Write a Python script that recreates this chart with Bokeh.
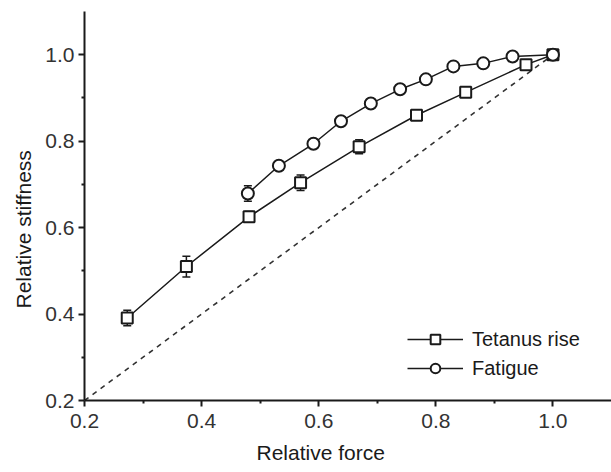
from bokeh.plotting import figure
from bokeh.models import (Range1d, FixedTicker, PrintfTickFormatter, Whisker, TeeHead,
                          ColumnDataSource, Legend, LegendItem, Title)
from bokeh.embed import file_html
from bokeh.resources import INLINE

# ---- data ----
tetanus_force = [0.273, 0.374, 0.481, 0.569, 0.669, 0.767, 0.851, 0.954, 1.0]
tetanus_stiff = [0.391, 0.510, 0.625, 0.704, 0.787, 0.860, 0.913, 0.977, 1.0]
tetanus_err = [0.018, 0.024, 0.012, 0.018, 0.016, 0.0, 0.0, 0.0, 0.0]

fatigue_force = [0.479, 0.532, 0.591, 0.638, 0.689, 0.739, 0.783, 0.830, 0.881, 0.931, 1.0]
fatigue_stiff = [0.679, 0.743, 0.794, 0.846, 0.887, 0.920, 0.943, 0.973, 0.980, 0.996, 1.0]
fatigue_err = [0.018, 0.0, 0.0, 0.0, 0.0, 0.0, 0.0, 0.0, 0.0, 0.0, 0.0]

identity_x = [0.2, 1.0]
identity_y = [0.2, 1.0]

tick_values = [0.2, 0.4, 0.6, 0.8, 1.0]
minor_values = [0.3, 0.5, 0.7, 0.9]

x_title = "Relative force"
y_title = "Relative stiffness"
series_names = ["Tetanus rise", "Fatigue"]

FONT = "Liberation Sans"
INK = "#1a1a1a"

p = figure(width=611, height=472, output_backend="svg", toolbar_location=None,
           x_range=Range1d(0.2, 1.1), y_range=Range1d(0.2, 1.1),
           min_border_left=84, min_border_right=0, min_border_top=11, min_border_bottom=72)
p.outline_line_color = None
p.grid.visible = False
p.background_fill_color = "white"

for ax in (p.xaxis[0], p.yaxis[0]):
    ax.ticker = FixedTicker(ticks=tick_values, minor_ticks=minor_values)
    ax.formatter = PrintfTickFormatter(format="%.1f")
    ax.axis_line_width = 2
    ax.axis_line_color = INK
    ax.major_tick_line_color = INK
    ax.major_tick_line_width = 2
    ax.minor_tick_line_color = INK
    ax.minor_tick_line_width = 2
    ax.major_tick_out = 6
    ax.major_tick_in = 0
    ax.minor_tick_out = 3
    ax.minor_tick_in = 0
    ax.major_label_text_font = FONT
    ax.major_label_text_font_size = "21px"
    ax.major_label_text_color = "#333333"
p.xaxis[0].major_label_standoff = 7
p.yaxis[0].major_label_standoff = 4

# identity dashed line
p.line(identity_x, identity_y, line_color="#333333", line_width=1.6, line_dash="5 5")

# error bars
def err_source(xs, ys, es):
    xx, lo, hi = [], [], []
    for x, y, e in zip(xs, ys, es):
        if e > 0:
            xx.append(x); lo.append(y - e); hi.append(y + e)
    return ColumnDataSource(dict(x=xx, lower=lo, upper=hi))

for xs, ys, es in ((tetanus_force, tetanus_stiff, tetanus_err),
                   (fatigue_force, fatigue_stiff, fatigue_err)):
    w = Whisker(source=err_source(xs, ys, es), base="x", lower="lower", upper="upper",
                dimension="height", line_color=INK, line_width=1.5,
                upper_head=TeeHead(size=8, line_color=INK, line_width=1.5),
                lower_head=TeeHead(size=8, line_color=INK, line_width=1.5))
    p.add_layout(w)

t_line = p.line(tetanus_force, tetanus_stiff, line_color=INK, line_width=1.5)
t_mark = p.scatter(tetanus_force, tetanus_stiff, marker="square", size=11,
                   fill_color="white", line_color=INK, line_width=2)
f_line = p.line(fatigue_force, fatigue_stiff, line_color=INK, line_width=1.5)
f_mark = p.scatter(fatigue_force, fatigue_stiff, marker="circle", size=12,
                   fill_color="white", line_color=INK, line_width=2)

legend = Legend(items=[LegendItem(label=series_names[0], renderers=[t_line, t_mark]),
                       LegendItem(label=series_names[1], renderers=[f_line, f_mark])],
                location=(323, 20), orientation="vertical",
                glyph_width=56, glyph_height=24, label_height=24, label_standoff=9,
                spacing=5, padding=0, margin=0,
                border_line_color=None, background_fill_alpha=0,
                label_text_font=FONT, label_text_font_size="20px", label_text_color=INK)
p.add_layout(legend)

# axis titles (centred on the 0.6 value, as in the original)
p.add_layout(Title(text=x_title, align="left", offset=172, standoff=16,
                   text_font=FONT, text_font_size="21px", text_font_style="normal",
                   text_color=INK), "below")
p.add_layout(Title(text=y_title, align="left", offset=92, standoff=16,
                   text_font=FONT, text_font_size="21px", text_font_style="normal",
                   text_color=INK), "left")

open("out.html", "w").write(file_html(p, INLINE))
